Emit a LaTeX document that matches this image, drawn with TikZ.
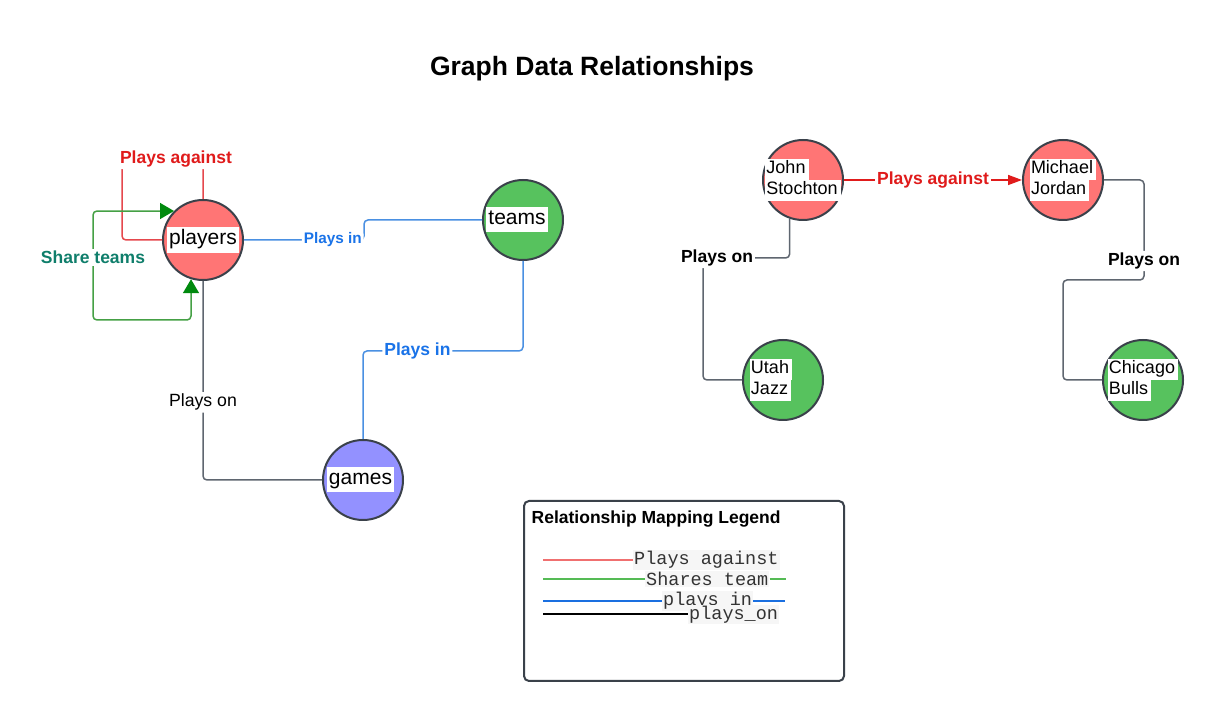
\documentclass[tikz,border=0pt]{standalone}
\usepackage{fontspec}
\setmainfont{Liberation Sans}
\setmonofont{Liberation Mono}
\usepackage{xcolor}
\definecolor{NodeRed}{HTML}{FF7575}
\definecolor{NodeGreen}{HTML}{57C25E}
\definecolor{NodePurple}{HTML}{9391FF}
\definecolor{NodeEdge}{HTML}{3A414A}
\definecolor{AgainstRed}{HTML}{E01B1B}
\definecolor{LineRed}{HTML}{E5484D}
\definecolor{InBlue}{HTML}{1A73E8}
\definecolor{LineBlue}{HTML}{4A90E2}
\definecolor{ShareTeal}{HTML}{0F7E6B}
\definecolor{LineGreen}{HTML}{45A045}
\definecolor{TipGreen}{HTML}{008A0E}
\definecolor{OnGray}{HTML}{5F6670}
\definecolor{KeyRed}{HTML}{F07070}
\definecolor{KeyGreen}{HTML}{55BB55}
\definecolor{KeyBlue}{HTML}{1A6FE0}
\definecolor{KeyBack}{HTML}{F6F6F6}
\usetikzlibrary{arrows.meta,positioning}
\newcommand{\wtag}[1]{{\setlength{\fboxsep}{2pt}\colorbox{white}{\strut #1}}}
\newcommand{\wline}[1]{{\setlength{\fboxsep}{0pt}\colorbox{white}{\strut\hspace{1pt}#1\hspace{3pt}}}}

\begin{document}
\begin{tikzpicture}[x=1pt, y=1pt,
        entity/.style={circle, draw=NodeEdge, line width=2pt, minimum size=80pt, inner sep=0pt, font=\fontsize{21}{21}\selectfont},
        player/.style={entity, fill=NodeRed},
        team/.style={entity, fill=NodeGreen},
        game/.style={entity, fill=NodePurple},
        person/.style={align=left, inner sep=-8pt, font=\fontsize{18}{21}\selectfont},
        link/.style={line width=1.5pt, rounded corners=4pt},
        againstlink/.style={link, draw=LineRed},
        playsinlink/.style={link, draw=LineBlue},
        playsonlink/.style={link, draw=OnGray},
        sharelink/.style={link, draw=LineGreen, {Triangle[length=14pt, width=16pt, color=TipGreen]}-{Triangle[length=14pt, width=16pt, color=TipGreen]}},
        againstarrow/.style={line width=1.5pt, draw=AgainstRed, -{Triangle[length=14pt, width=10pt]}},
        tag/.style={fill=white, inner sep=2pt, font=\bfseries\fontsize{17.5}{20}\selectfont},
        againstlabel/.style={tag, text=AgainstRed},
        inlabel/.style={tag, text=InBlue},
        sharelabel/.style={tag, text=ShareTeal},
        onlabel/.style={tag, font=\fontsize{17.7}{20}\selectfont},
        keytext/.style={fill=KeyBack, inner sep=1pt, text=black!80, font=\ttfamily\fontsize{18.5}{20}\selectfont},
        keyline/.style={line width=2pt}]

        \fill[white] (0,0) rectangle (1223,720);
        \useasboundingbox (0,0) rectangle (1223,720);

        \node[font=\bfseries\fontsize{26.5}{30}\selectfont] (title) at (592,651) {Graph Data Relationships};

        % schema side
        \node[player] (players) at (203,480) {\wtag{players}};
        \node[team, right=238pt of players, yshift=20pt] (teams) {\wtag{teams}\hspace*{12pt}};
        \node[game] (games) at (363,240) {\wtag{games}\hspace*{5pt}};

        \coordinate (againstturn) at (122,561);
        \coordinate (shareturn) at (93,400);

        \draw[againstlink] (players.north) |- node[againstlabel, pos=0.667] {Plays against} (againstturn) |- (players.west);
        \draw[sharelink] (players.253) |- (shareturn) |- node[sharelabel, pos=0.287] {Share teams} (players.135);
        \draw[playsinlink] (players.east) -- ++(120,0) node[inlabel, font=\bfseries\fontsize{15.3}{18}\selectfont, pos=0.74] {Plays in} |- (teams.west);
        \draw[playsinlink] (teams.south) -- ++(0,-90) -| node[inlabel, pos=0.33] {Plays in} (games.north);
        \draw[playsonlink] (players.south) |- node[onlabel, pos=0.305] {Plays on} (games.west);

        % example side
        \node[player, person] (john) at (803,540) {\wline{John}\\\wline{Stochton}};
        \node[player, person, right=178pt of john] (michael) {\wline{Michael}\\\wline{Jordan}};
        \node[team, person, below=118pt of john, xshift=-20pt] (utah) {\wline{Utah}\hspace*{24pt}\\\wline{Jazz}};
        \node[team, person, below=118pt of michael, xshift=80pt] (chicago) {\wline{Chicago}\\\wline{Bulls}};

        \coordinate (jazzturn) at (703,462);
        \coordinate (bullsturn) at (1063,440);

        \draw[againstarrow] (john.east) -- node[againstlabel] {Plays against} (michael.west);
        \draw[playsonlink] (john.251) |- node[tag, pos=1, xshift=14pt] {Plays on} (jazzturn) |- (utah.west);
        \draw[playsonlink] (michael.east) -| node[tag, pos=0.905] {Plays on} ++(40,-100) -- (bullsturn) |- (chicago.west);

        % legend
        \node[draw=NodeEdge, line width=2pt, rounded corners=5pt, minimum width=320pt, minimum height=180pt, anchor=north west] (legend) at (523,220) {};
        \node[anchor=west, inner sep=0pt, font=\bfseries\fontsize{17.5}{20}\selectfont] (legendtitle) at (531.5,200.5) {Relationship Mapping Legend};
        \coordinate (keyleft) at (543,0);

        \node[keytext, anchor=west] (keyagainst) at (633,160) {Plays against};
        \node[keytext, anchor=west] (keyshare) at (645,141) {Shares team};
        \node[keytext, anchor=west] (keyin) at (662,119) {plays in};
        \draw[keyline, KeyRed] (keyleft |- keyagainst.west) -- (keyagainst.west);
        \draw[keyline, KeyGreen] (keyleft |- keyshare.west) -- (keyshare.west);
        \draw[keyline, KeyGreen] (keyshare.east) -- ++(16,0);
        \draw[keyline, KeyBlue] (keyleft |- keyin.west) -- (keyin.west);
        \draw[keyline, KeyBlue] (keyin.east) -- ++(32,0);
        \node[keytext, anchor=west] (keyon) at (688,105.7) {plays\_on};
        \draw[keyline, black] (keyleft |- keyon.west) -- (keyon.west);
\end{tikzpicture}
\end{document}
